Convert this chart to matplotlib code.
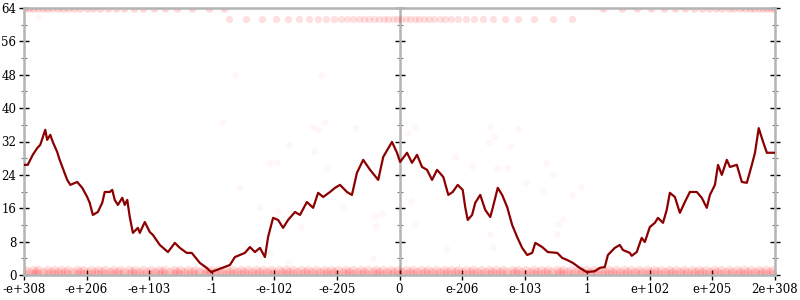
import matplotlib
matplotlib.use("Agg")
import matplotlib.pyplot as plt
from matplotlib.ticker import MultipleLocator, FixedLocator, NullFormatter

# ---- data (x in ordinal position units, 0 = zero) ----
tick_pos = [-6, -5, -4, -3, -2, -1, 0, 1, 2, 3, 4, 5, 6]
tick_labels = ["-e+308", "-e+206", "-e+103", "-1", "-e-102", "-e-205", "0",
               "e-206", "e-103", "1", "e+102", "e+205", "2e+308"]

line_x = [-6.0, -5.94, -5.86, -5.79, -5.74, -5.66, -5.63, -5.58, -5.54, -5.47, -5.43, -5.38,
          -5.31, -5.26, -5.15, -5.07, -4.99, -4.95, -4.90, -4.82, -4.75, -4.71, -4.63, -4.59,
          -4.55, -4.50, -4.43, -4.39, -4.35, -4.31, -4.26, -4.18, -4.15, -4.07, -3.99, -3.94,
          -3.83, -3.70, -3.59, -3.51, -3.40, -3.32, -3.19, -3.08, -3.01, -2.87, -2.71, -2.63,
          -2.55, -2.47, -2.39, -2.31, -2.23, -2.15, -2.10, -2.02, -1.94, -1.86, -1.78, -1.67,
          -1.59, -1.48, -1.38, -1.30, -1.22, -1.11, -1.03, -0.95, -0.84, -0.76, -0.68, -0.58,
          -0.47, -0.34, -0.26, -0.12, -0.04, 0.01, 0.12, 0.20, 0.28, 0.36, 0.44, 0.52, 0.60,
          0.70, 0.78, 0.85, 0.93, 1.01, 1.05, 1.09, 1.16, 1.21, 1.29, 1.37, 1.45, 1.49, 1.57,
          1.64, 1.72, 1.80, 1.88, 1.96, 2.04, 2.12, 2.17, 2.28, 2.37, 2.52, 2.60, 2.68, 2.77,
          2.88, 2.99, 3.12, 3.20, 3.28, 3.33, 3.44, 3.52, 3.57, 3.68, 3.71, 3.79, 3.87, 3.92,
          4.00, 4.08, 4.13, 4.21, 4.27, 4.32, 4.40, 4.48, 4.56, 4.64, 4.75, 4.83, 4.91, 4.96,
          5.04, 5.09, 5.15, 5.23, 5.28, 5.39, 5.47, 5.55, 5.63, 5.68, 5.74, 5.81, 5.87, 6.0]
line_y = [26.4, 26.4, 28.8, 30.4, 31.2, 34.8, 32.4, 33.6, 31.9, 29.5, 27.6, 25.6,
          22.8, 21.6, 22.3, 20.9, 18.7, 17.3, 14.4, 15.1, 17.3, 19.9, 19.9, 20.4,
          18.0, 16.8, 18.5, 16.8, 18.0, 13.9, 10.1, 11.3, 10.1, 12.7, 10.3, 9.6,
          7.2, 5.5, 7.7, 6.5, 5.3, 5.3, 2.9, 1.7, 0.7, 1.5, 2.4, 4.3,
          4.8, 5.3, 6.7, 5.5, 6.5, 4.3, 9.1, 13.7, 13.2, 11.3, 13.2, 15.1,
          14.4, 17.5, 16.1, 19.7, 18.7, 19.9, 20.9, 21.6, 19.9, 19.2, 24.5, 27.6,
          25.2, 22.8, 28.3, 31.9, 29.3, 27.1, 29.3, 26.9, 28.8, 25.9, 25.2, 22.8, 25.2,
          23.5, 19.2, 19.9, 21.6, 20.4, 16.3, 13.2, 14.4, 17.3, 19.2, 15.6, 13.9, 16.1, 20.9,
          19.2, 16.3, 12.0, 9.1, 6.5, 4.8, 5.3, 7.7, 6.7, 5.5, 5.3, 4.1, 3.6, 2.9,
          1.7, 0.7, 0.9, 1.7, 1.9, 4.8, 6.5, 7.2, 6.0, 5.3, 4.6, 5.5, 8.9, 7.9,
          11.5, 12.5, 13.7, 12.5, 15.6, 19.7, 18.7, 14.9, 17.5, 19.9, 19.9, 18.5, 16.1, 19.2,
          21.6, 26.4, 24.0, 27.6, 25.9, 26.4, 22.3, 22.1, 26.4, 29.3, 35.2, 31.9, 29.3, 29.3]

bottom_x = [-5.98, -5.86, -5.77, -5.63, -5.52, -5.41, -5.30, -5.16, -5.05, -4.93, -4.82, -4.70,
            -4.57, -4.46, -4.33, -4.22, -4.10, -3.97, -3.85, -3.74, -3.61, -3.50, -3.38, -3.26,
            -3.13, -3.02, -2.90, -2.77, -2.66, -2.54, -2.42, -2.29, -2.18, -2.06, -1.93, -1.82,
            -1.70, -1.57, -1.46, -1.34, -1.21, -1.10, -0.98, -0.85, -0.74, -0.62, -0.50, -0.37,
            -0.26, -0.14, -0.02, 0.10, 0.22, 0.35, 0.46, 0.58, 0.71, 0.82, 0.94, 1.07, 1.18,
            1.30, 1.43, 1.54, 1.66, 1.79, 1.90, 2.02, 2.15, 2.26, 2.38, 2.51, 2.62, 2.74, 2.87,
            2.98, 3.10, 3.23, 3.34, 3.46, 3.59, 3.70, 3.82, 3.95, 4.06, 4.18, 4.31, 4.42, 4.54,
            4.67, 4.78, 4.90, 5.03, 5.14, 5.26, 5.39, 5.50, 5.62, 5.75, 5.86, 5.97]
bottom_x2 = [-5.92, -5.81, -5.69, -5.57, -5.46, -5.35, -5.22, -5.11, -4.99, -4.87, -4.76, -4.63,
             -4.51, -4.40, -4.27, -4.16, -4.03, -3.91, -3.80, -3.67, -3.55, -3.44, -3.32, -3.20,
             -3.07, -2.96, -2.84, -2.71, -2.60, -2.48, -2.36, -2.24, -2.12, -2.00, -1.88, -1.76,
             -1.63, -1.51, -1.40, -1.27, -1.16, -1.04, -0.91, -0.80, -0.68, -0.56, -0.43, -0.32,
             -0.20, -0.08, 0.04, 0.16, 0.28, 0.40, 0.52, 0.65, 0.76, 0.88, 1.00, 1.12, 1.24,
             1.37, 1.48, 1.60, 1.72, 1.84, 1.96, 2.08, 2.20, 2.32, 2.44, 2.56, 2.68, 2.80, 2.92,
             3.04, 3.16, 3.28, 3.40, 3.52, 3.64, 3.76, 3.88, 4.00, 4.12, 4.24, 4.36, 4.48, 4.60,
             4.72, 4.84, 4.96, 5.08, 5.20, 5.32, 5.44, 5.56, 5.68, 5.80, 5.92]
bottom_levels = [0.3, 1.2]
bottom_levels2 = [0.7]

top_x = [-5.98, -5.92, -5.85, -5.78, -5.70, -5.63, -5.55, -5.46, -5.38, -5.29, -5.20, -5.10,
         -5.00, -4.89, -4.78, -4.66, -4.53, -4.40, -4.25, -4.10, -3.93, -3.75, -3.55, -3.32,
         -3.05, -2.80,
         3.25, 3.55, 3.80, 4.02, 4.22, 4.40, 4.56, 4.70, 4.83, 4.95, 5.06, 5.16, 5.26, 5.35,
         5.44, 5.52, 5.60, 5.67, 5.74, 5.81, 5.87, 5.93, 5.98]
top_level = 64.0

mid_x = [-2.72, -2.45, -2.20, -1.98, -1.78, -1.60, -1.44, -1.30, -1.17, -1.05, -0.94, -0.84,
         -0.74, -0.65, -0.56, -0.48, -0.40, -0.32, -0.25, -0.18, -0.11, -0.04, 0.03, 0.10,
         0.17, 0.24, 0.31, 0.39, 0.47, 0.55, 0.64, 0.73, 0.83, 0.94, 1.06, 1.19, 1.34, 1.50,
         1.69, 1.90, 2.15, 2.45, 2.75]
mid_level = 61.3

sparse_x = [-2.84, -1.38, -1.19, -1.30, -0.71, -1.77, -2.07, -1.96, -1.37, -1.16, -2.57, -2.24,
            -1.94, -1.57, -0.90, -0.39, -0.28, -0.38, -2.07, -0.43, -1.78, 0.25, 0.14, 1.45,
            1.51, 1.89, 1.43, 1.77, 0.89, 1.16, 1.56, 1.72, 2.34, 2.45, 2.02, 2.29, 2.90, 2.76,
            0.18, 2.61, 2.53, 0.25, 1.45, 2.52, 0.76, 1.49, -5.78, -2.63, -1.26]
sparse_y = [36.7, 35.5, 36.7, 34.8, 35.2, 31.2, 26.9, 27.1, 29.7, 25.6, 20.9, 16.3,
            15.3, 11.5, 16.3, 14.1, 14.6, 11.7, 5.3, 4.1, 2.9, 35.5, 34.0, 35.5,
            33.3, 35.0, 31.6, 30.9, 28.3, 26.1, 25.6, 25.6, 26.9, 24.0, 22.1, 20.1, 21.1, 19.2,
            17.7, 13.4, 12.2, 12.2, 9.8, 9.8, 6.2, 6.7, 61.9, 48.0, 48.0]

# ---- figure ----
plt.rcParams['font.family'] = ['DejaVu Serif']
fig = plt.figure(figsize=(8, 3), dpi=100)
ax = fig.add_axes([24 / 800, 1 - 275 / 300, 751 / 800, 267 / 300])

dot = dict(color='red', linewidths=0, zorder=2)
for lvl in bottom_levels:
    ax.scatter(bottom_x, [lvl] * len(bottom_x), alpha=0.12, s=45, **dot)
for lvl in bottom_levels2:
    ax.scatter(bottom_x2, [lvl] * len(bottom_x2), alpha=0.12, s=45, **dot)
ax.scatter(top_x, [top_level] * len(top_x), alpha=0.16, s=35, **dot)
ax.scatter(mid_x, [mid_level] * len(mid_x), alpha=0.12, s=28, **dot)
ax.scatter(sparse_x, sparse_y, alpha=0.03, s=25, **dot)

ax.plot(line_x, line_y, color='#8b0000', lw=1.6, zorder=3)

ax.set_xlim(-6, 6)
ax.set_ylim(0, 64)

grey = '#b4b4b4'
for s in ax.spines.values():
    s.set_color(grey)
    s.set_linewidth(1.8)

ax.xaxis.set_major_locator(FixedLocator(tick_pos))
ax.set_xticklabels(tick_labels)
ax.yaxis.set_major_locator(MultipleLocator(8))
ax.yaxis.set_minor_locator(MultipleLocator(4))

ax.tick_params(axis='both', which='major', direction='inout', length=7, width=1.0,
               color='black', labelsize=8.5, pad=2, right=True)
ax.tick_params(axis='y', which='minor', direction='inout', length=4.5, width=0.8,
               color='#777777', right=True)

sec = ax.secondary_yaxis(0.5)
sec.yaxis.set_major_locator(MultipleLocator(8))
sec.yaxis.set_minor_locator(MultipleLocator(4))
sec.yaxis.set_major_formatter(NullFormatter())
sec.yaxis.set_minor_formatter(NullFormatter())
for sp in sec.spines.values():
    sp.set_color(grey)
    sp.set_linewidth(1.8)
sec.tick_params(axis='y', which='major', direction='inout', length=7, width=1.0,
                color='black', labelleft=False, labelright=False)
sec.tick_params(axis='y', which='minor', direction='inout', length=4.5, width=0.8,
                color='#777777', labelleft=False, labelright=False)

fig.savefig('out.png', dpi=100)
